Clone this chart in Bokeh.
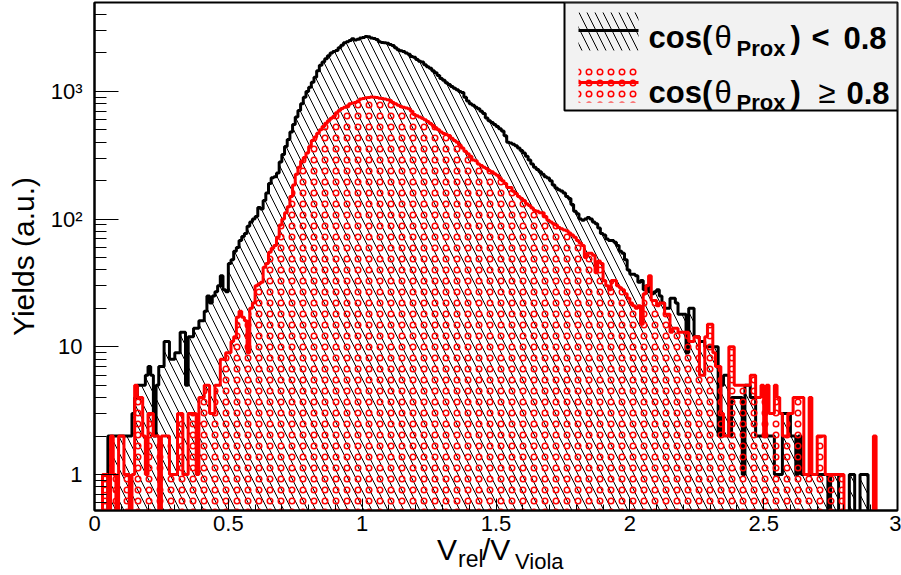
import numpy as np
from bokeh.plotting import figure
from bokeh.layouts import column
from bokeh.models import Range1d, FixedTicker, Div
from bokeh.core.properties import value
from bokeh.embed import file_html
from bokeh.resources import INLINE

# ---------------- data ----------------
x_min, x_max, n_bins = 0.0, 3.0, 300

black_counts = [
    0, 0, 0, 0, 0, 2, 2, 2, 2, 2,
    2, 2, 2, 2, 3, 4, 5, 5, 5, 6,
    7, 6, 2, 5, 7, 7, 11, 11, 8, 8,
    9, 9, 13, 13, 5, 12, 12, 14, 14, 16,
    16, 19, 25, 22, 25, 27, 30, 36, 28, 27,
    45, 48, 56, 60, 68, 73, 77, 88, 95, 100,
    105, 123, 120, 140, 160, 190, 211, 215, 230, 280,
    320, 370, 420, 480, 550, 630, 710, 800, 900, 1000,
    1080, 1180, 1290, 1450, 1600, 1700, 1800, 1900, 2000, 2050,
    2090, 2200, 2300, 2400, 2450, 2500, 2580, 2530, 2560, 2620,
    2640, 2690, 2680, 2620, 2600, 2550, 2450, 2420, 2400, 2380,
    2330, 2290, 2200, 2120, 2080, 2050, 2000, 1950, 1880, 1850,
    1780, 1720, 1700, 1620, 1560, 1520, 1450, 1400, 1330, 1260,
    1220, 1170, 1130, 1090, 1060, 1030, 1000, 980, 900, 840,
    800, 780, 750, 730, 700, 670, 620, 590, 570, 550,
    530, 510, 490, 450, 400, 395, 385, 375, 360, 345,
    330, 310, 290, 270, 255, 245, 235, 225, 215, 210,
    200, 185, 175, 170, 166, 160, 150, 145, 130, 115,
    110, 100, 98, 100, 103, 100, 95, 92, 85, 77,
    75, 70, 68, 68, 66, 62, 56, 54, 48, 40,
    37, 37, 36, 32, 33, 28, 30, 27, 26, 27,
    28, 25, 22, 20, 20, 24, 24, 22, 18, 18,
    18, 9, 20, 20, 12, 12, 11, 11, 10, 10,
    10, 10, 10, 2, 5, 6, 6, 2, 4, 4,
    4, 4, 1, 5, 5, 4, 4, 2, 2, 2,
    2, 2, 2, 2, 1, 1, 1, 3, 3, 3,
    2, 2, 1, 2, 1, 1, 1, 1, 1, 1,
    1, 1, 1, 1, 0, 1, 1, 1, 0, 0,
    0, 0, 1, 1, 0, 0, 1, 1, 1, 0,
    0, 0, 0, 0, 0, 0, 0, 0, 0, 0,
]

red_counts = [
    0, 0, 0, 1, 1, 0, 2, 1, 0, 2,
    2, 1, 1, 0, 1, 5, 4, 4, 2, 1,
    3, 3, 2, 2, 0, 2, 2, 2, 1, 1,
    1, 3, 3, 1, 1, 3, 3, 3, 1, 4,
    4, 5, 5, 3, 3, 5, 5, 8, 8, 9,
    9, 11, 12, 17, 19, 17, 16, 9, 20, 22,
    30, 31, 32, 42, 45, 55, 59, 62, 72, 90,
    100, 112, 125, 150, 185, 225, 255, 285, 303, 330,
    370, 412, 440, 470, 500, 530, 563, 590, 615, 640,
    680, 710, 735, 750, 770, 800, 810, 820, 840, 870,
    880, 890, 895, 905, 900, 895, 885, 880, 870, 860,
    850, 820, 800, 780, 760, 750, 740, 730, 700, 660,
    645, 630, 616, 600, 580, 560, 540, 520, 500, 480,
    468, 460, 451, 430, 412, 400, 380, 360, 340, 325,
    310, 290, 287, 270, 263, 255, 249, 240, 235, 227,
    220, 210, 200, 190, 177, 177, 165, 159, 150, 145,
    140, 132, 128, 122, 117, 115, 112, 112, 105, 98,
    95, 92, 90, 86, 84, 82, 81, 78, 75, 72,
    68, 65, 62, 50, 54, 54, 52, 38, 47, 45,
    33, 30, 28, 33, 33, 30, 29, 28, 26, 24,
    22, 21, 20, 21, 15, 26, 30, 36, 23, 23,
    21, 22, 22, 18, 18, 13, 14, 14, 13, 13,
    13, 13, 11, 11, 12, 12, 6, 6, 12, 15,
    15, 9, 7, 7, 3, 2, 2, 10, 10, 5,
    5, 5, 5, 5, 5, 6, 6, 4, 4, 5,
    2, 5, 3, 3, 5, 4, 3, 2, 2, 3,
    3, 4, 4, 4, 4, 1, 1, 4, 1, 1,
    2, 2, 2, 1, 1, 1, 1, 1, 1, 1,
    0, 0, 0, 0, 0, 0, 0, 0, 0, 0,
    0, 2, 0, 0, 0, 0, 0, 0, 0, 0,
]

x_tick_values = [0, 0.5, 1, 1.5, 2, 2.5, 3]
x_tick_labels = ["0", "0.5", "1", "1.5", "2", "2.5", "3"]
y_tick_values = [1, 10, 100, 1000]
y_tick_labels = ["1", "10", "10\u00b2", "10\u00b3"]
y_minor_values = [0.6, 0.7, 0.8, 0.9] + [m * d for d in (1, 10, 100) for m in range(2, 10)] + [2000, 3000, 4000]

x_title_parts = ["V", "rel", "/V", "Viola"]
y_title = "Yields (a.u.)"
legend_cos = "cos("
legend_theta = "\u03b8"
legend_sub = "Prox"
legend_close = ")"
legend_ops = ["<", "\u2265"]
legend_val = "0.8"

# ---------------- layout helpers (reference-pixel -> data position) ----------------
W, H = 901, 575
FL, FR, FT, FB = 94, 897, 2, 510          # frame edges in page pixels
PX_PER_UNIT = (FR - FL) / (x_max - x_min)
Y_ONE, PX_PER_DEC = 474, 127.7


def px_x(px):
    return x_min + (px - FL) / PX_PER_UNIT


def px_y(py):
    return 10 ** ((Y_ONE - py) / PX_PER_DEC)


y_lo, y_hi = px_y(FB), px_y(FT)
floor = 0.05

TOP_H = 541
p = figure(width=W, height=TOP_H, output_backend="svg", toolbar_location=None,
           y_axis_type="log", x_range=Range1d(x_min, x_max), y_range=Range1d(y_lo, y_hi),
           min_border_left=FL, min_border_right=W - FR, min_border_top=FT,
           min_border_bottom=TOP_H - FB)
p.xgrid.visible = False
p.ygrid.visible = False
p.outline_line_color = "black"
p.outline_line_width = 2
p.background_fill_color = "white"
p.border_fill_color = "white"

black_hatch = dict(hatch_pattern="left_diagonal_line", hatch_color="black",
                   hatch_scale=16, hatch_weight=1)
red_hatch = dict(hatch_pattern="ring", hatch_color="red", hatch_scale=11, hatch_weight=1.5)

edges = np.linspace(x_min, x_max, n_bins + 1)


def step_xy(counts):
    xs, ys = [edges[0]], [floor]
    for i, c in enumerate(counts):
        yv = c if c > 0 else floor
        xs += [edges[i], edges[i + 1]]
        ys += [yv, yv]
    xs.append(edges[-1])
    ys.append(floor)
    return xs, ys


bx, by = step_xy(black_counts)
rx, ry = step_xy(red_counts)

p.patch(bx, by, fill_color=None, line_color=None, **black_hatch)
p.line(bx, by, line_color="black", line_width=3)
p.patch(rx, ry, fill_color=None, line_color=None, **red_hatch)
p.line(rx, ry, line_color="red", line_width=3)

# ---------------- legend (drawn by hand) ----------------
p.quad(left=[px_x(564)], right=[x_max], bottom=[px_y(110)], top=[y_hi], fill_color="#f2f2f2",
       line_color="black", line_width=2)
sw_l, sw_r = px_x(578), px_x(638)
p.quad(left=[sw_l], right=[sw_r], bottom=[px_y(50)], top=[px_y(12)], fill_color=None, line_color=None,
       **black_hatch)
p.segment(x0=[sw_l], x1=[sw_r], y0=[px_y(30)], y1=[px_y(30)], line_color="black", line_width=3)
p.quad(left=[sw_l], right=[sw_r], bottom=[px_y(102)], top=[px_y(65)], fill_color=None, line_color=None,
       **red_hatch)
p.segment(x0=[sw_l], x1=[sw_r], y0=[px_y(82)], y1=[px_y(82)], line_color="red", line_width=3)

font = value("Liberation Sans")


def ltext(px, py, txt, size, style):
    p.text(x=[px_x(px)], y=[px_y(py)], text=[txt], text_font=font, text_font_style=style,
           text_font_size=value(size), text_baseline="alphabetic", text_align="left",
           text_color="black")


for base, sub in [(37, 48), (92, 102)]:
    ltext(648, base, legend_cos, "31px", "bold")
    ltext(714, base, legend_theta, "31px", "normal")
    ltext(736, sub, legend_sub, "22px", "bold")
    ltext(790, base, legend_close, "31px", "bold")
ltext(811, 37, legend_ops[0], "31px", "bold")
ltext(843, 37, legend_val, "31px", "bold")
ltext(818, 92, legend_ops[1], "31px", "normal")
ltext(846, 92, legend_val, "31px", "bold")

# ---------------- axes ----------------
p.xaxis.ticker = FixedTicker(ticks=x_tick_values,
                             minor_ticks=[round(0.1 * i, 2) for i in range(31)])
p.xaxis.major_label_overrides = {v: l for v, l in zip(x_tick_values, x_tick_labels)}
p.yaxis.ticker = FixedTicker(ticks=y_tick_values, minor_ticks=y_minor_values)
p.yaxis.major_label_overrides = {v: l for v, l in zip(y_tick_values, y_tick_labels)}

for ax in (p.xaxis, p.yaxis):
    ax.axis_line_color = "black"
    ax.axis_line_width = 2
    ax.major_tick_out = 0
    ax.minor_tick_out = 0
    ax.major_tick_line_color = "black"
    ax.minor_tick_line_color = "black"
    ax.major_tick_line_width = 1
    ax.minor_tick_line_width = 1
    ax.major_label_text_font = "Liberation Sans"
    ax.major_label_text_font_size = "22px"
    ax.major_label_text_color = "black"

p.yaxis.major_tick_in = 24
p.yaxis.minor_tick_in = 12
p.yaxis.major_label_standoff = 12
p.xaxis.major_tick_in = 12
p.xaxis.minor_tick_in = 6
p.xaxis.major_label_standoff = 5

p.yaxis.axis_label = y_title
p.yaxis.axis_label_text_font = "Liberation Sans"
p.yaxis.axis_label_text_font_style = "normal"
p.yaxis.axis_label_text_font_size = "30px"
p.yaxis.axis_label_text_color = "black"
p.yaxis.axis_label_standoff = 8

# ---------------- x title (HTML text with sub-scripts) ----------------
BOT_H = H - TOP_H
title_px = [432, 453, 477, 510]
title_base = [555, 562, 555, 565]
title_size = [30, 23, 30, 22]
spans = []
for left, base, t, s in zip(title_px, title_base, x_title_parts, title_size):
    top = (base - TOP_H) - 0.8465 * s
    spans.append(
        f'<span style="position:absolute;left:{left}px;top:{top:.1f}px;font-size:{s}px;'
        f'line-height:{s}px;white-space:nowrap;">{t}</span>')
title_html = ('<div style="position:relative;width:%dpx;height:%dpx;overflow:visible;'
              'font-family:\'Liberation Sans\',Arial,sans-serif;color:#000;">%s</div>'
              % (W, BOT_H, "".join(spans)))
title_div = Div(text=title_html, width=W, height=BOT_H, styles={"overflow": "visible"})

layout = column(p, title_div, spacing=0)
open("out.html", "w").write(file_html(layout, INLINE))
